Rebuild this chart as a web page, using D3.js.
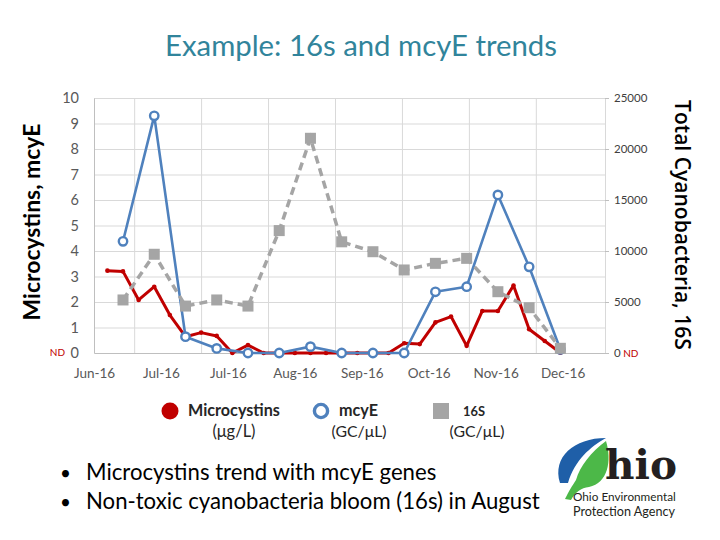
<!DOCTYPE html>
<html>
<head>
<meta charset="utf-8">
<script src="https://cdn.jsdelivr.net/npm/d3@7"></script>
<style>
  html, body { margin: 0; padding: 0; background: #fff; }
  svg { display: block; }
</style>
</head>
<body>
<script>
// ---------------- DATA ----------------
const titleText = "Example: 16s and mcyE trends";
const leftAxisTitle = "Microcystins, mcyE";
const rightAxisTitle = "Total Cyanobacteria, 16S";

// weekly microcystins samples (µg/L)
const microDates = ["2016-06-07","2016-06-14","2016-06-21","2016-06-28","2016-07-05","2016-07-12",
  "2016-07-19","2016-07-26","2016-08-02","2016-08-09","2016-08-16","2016-08-23","2016-08-30",
  "2016-09-06","2016-09-13","2016-09-20","2016-09-27","2016-10-04","2016-10-11","2016-10-18",
  "2016-10-25","2016-11-01","2016-11-08","2016-11-15","2016-11-22","2016-11-29","2016-12-06",
  "2016-12-13","2016-12-20","2016-12-27"];
const microcystins = [3.23, 3.2, 2.08, 2.6, 1.49, 0.64, 0.8, 0.67, 0, 0.31, 0, 0, 0, 0, 0, 0, 0, 0, 0,
  0.38, 0.35, 1.2, 1.43, 0.28, 1.65, 1.65, 2.65, 0.93, 0.47, 0.01];

// biweekly gene samples
const geneDates = ["2016-06-14","2016-06-28","2016-07-12","2016-07-26","2016-08-09","2016-08-23",
  "2016-09-06","2016-09-20","2016-10-04","2016-10-18","2016-11-01","2016-11-15","2016-11-29",
  "2016-12-13","2016-12-27"];
const mcyE = [4.38, 9.3, 0.64, 0.18, 0.0, 0.0, 0.25, 0.0, 0.0, 0.0, 2.4, 2.6, 6.2, 3.38, 0.14];
const s16 = [5200, 9680, 4600, 5200, 4600, 12000, 21050, 10900, 9930, 8140, 8790, 9280, 6010, 4440, 460];

// axis ticks
const xLabelDates = ["2016-06-01","2016-07-01","2016-07-31","2016-08-30","2016-09-29","2016-10-29","2016-11-28","2016-12-28"];
const xGridDates = ["2016-06-19","2016-07-19","2016-08-18","2016-09-17","2016-10-17","2016-11-16","2016-12-16"];
const xDomain = ["2016-06-01","2017-01-16"];
const leftTicks = [0,1,2,3,4,5,6,7,8,9,10];
const rightTicks = [0,5000,10000,15000,20000,25000];

const legendItems = [
  {name: "Microcystins", unit: "(μg/L)"},
  {name: "mcyE", unit: "(GC/μL)"},
  {name: "16S", unit: "(GC/μL)"}
];
const bullets = ["Microcystins trend with mcyE genes", "Non-toxic cyanobacteria bloom (16s) in August"];

// ---------------- DRAW ----------------
const W = 720, H = 540;
const RED = "#C00000", BLUE = "#4F81BD", GRAY = "#A5A5A5";
const parse = d3.utcParse("%Y-%m-%d");
const svg = d3.select("body").append("svg").attr("width", W).attr("height", H);
svg.append("rect").attr("width", W).attr("height", H).attr("fill", "#fff");

function fit(sel, w) {
  const l = sel.node().getComputedTextLength();
  const fs = parseFloat(sel.attr("font-size"));
  sel.attr("font-size", (fs * w / l).toFixed(2));
  return sel;
}

const plot = {left: 94, right: 605, top: 98, bottom: 353};
const x = d3.scaleUtc().domain(xDomain.map(parse)).range([plot.left, plot.right]);
const yL = d3.scaleLinear().domain([0, 10]).range([plot.bottom, plot.top]);
const yR = d3.scaleLinear().domain([0, 25000]).range([plot.bottom, plot.top]);

// title
fit(svg.append("text").attr("x", 361).attr("y", 56).attr("text-anchor", "middle")
  .attr("font-family", "Lato").attr("font-size", 28).attr("fill", "#31849B").text(titleText), 392);

// gridlines
const gH = svg.append("g").attr("transform", `translate(${plot.left},0)`)
  .call(d3.axisLeft(yL).tickValues(leftTicks.slice(1)).tickSize(-(plot.right - plot.left)).tickFormat(""));
gH.select(".domain").remove();
gH.selectAll("line").attr("stroke", "#D9D9D9").attr("stroke-width", 1);

const gV = svg.append("g").attr("transform", `translate(0,${plot.bottom})`)
  .call(d3.axisBottom(x).tickValues(xGridDates.map(parse)).tickSize(-(plot.bottom - plot.top)).tickFormat(""));
gV.select(".domain").remove();
gV.selectAll("line").attr("stroke", "#D9D9D9").attr("stroke-width", 1);

// left axis
const gL = svg.append("g").attr("transform", `translate(${plot.left},0)`)
  .call(d3.axisLeft(yL).tickValues(leftTicks).tickSize(0).tickPadding(15));
gL.select(".domain").attr("stroke", "#BFBFBF");
gL.selectAll("text").attr("font-family", "Lato").attr("font-size", 14.5).attr("fill", "#595959");
svg.append("text").attr("x", 65).attr("y", yL(0)).attr("dy", "0.32em").attr("text-anchor", "end")
  .attr("font-family", "Lato").attr("font-size", 10).attr("fill", RED).text("ND");

// right axis
const gR = svg.append("g").attr("transform", `translate(${plot.right},0)`)
  .call(d3.axisRight(yR).tickValues(rightTicks).tickSize(4).tickPadding(5).tickFormat(d3.format("d")));
gR.select(".domain").attr("stroke", "#D9D9D9");
gR.selectAll("line").attr("stroke", "#BFBFBF");
gR.selectAll("text").attr("font-family", "Lato").attr("font-size", 11.5).attr("fill", "#404040");
gR.selectAll(".tick").filter(d => d === 0).select("text")
  .append("tspan").attr("fill", RED).attr("font-size", 10).text(" ND");

// bottom axis
const gB = svg.append("g").attr("transform", `translate(0,${plot.bottom})`)
  .call(d3.axisBottom(x).tickValues(xLabelDates.map(parse)).tickSize(0).tickPadding(15)
    .tickFormat(d3.utcFormat("%b-%y")));
gB.select(".domain").attr("stroke", "#BFBFBF");
gB.selectAll("text").attr("font-family", "Lato").attr("font-size", 13.5).attr("fill", "#595959");

// axis titles
fit(svg.append("text").attr("transform", "translate(31,222) rotate(-90)").attr("text-anchor", "middle")
  .attr("dominant-baseline", "central").attr("font-family", "Lato").attr("font-weight", 700)
  .attr("font-size", 17).attr("fill", "#000").text(leftAxisTitle), 197);
fit(svg.append("text").attr("transform", "translate(683,225) rotate(90)").attr("text-anchor", "middle")
  .attr("dominant-baseline", "central").attr("font-family", "Open Sans").attr("font-weight", 600)
  .attr("font-size", 19).attr("fill", "#000").text(rightAxisTitle), 250);

// series
const microData = microDates.map((d, i) => ({date: parse(d), v: microcystins[i]}));
const mcyData = geneDates.map((d, i) => ({date: parse(d), v: mcyE[i]}));
const s16Data = geneDates.map((d, i) => ({date: parse(d), v: s16[i]}));

const lineL = d3.line().x(d => x(d.date)).y(d => yL(d.v));
const lineR = d3.line().x(d => x(d.date)).y(d => yR(d.v));

// microcystins
svg.append("path").datum(microData).attr("d", lineL).attr("fill", "none")
  .attr("stroke", RED).attr("stroke-width", 3).attr("stroke-linejoin", "round");
svg.append("g").selectAll("circle").data(microData).join("circle")
  .attr("cx", d => x(d.date)).attr("cy", d => yL(d.v)).attr("r", 2.3).attr("fill", RED);

// mcyE
svg.append("path").datum(mcyData).attr("d", lineL).attr("fill", "none")
  .attr("stroke", BLUE).attr("stroke-width", 2.6).attr("stroke-linejoin", "round");
svg.append("g").selectAll("circle").data(mcyData).join("circle")
  .attr("cx", d => x(d.date)).attr("cy", d => yL(d.v)).attr("r", 4.2)
  .attr("fill", "#fff").attr("stroke", BLUE).attr("stroke-width", 2.4);

// 16S (secondary axis)
svg.append("path").datum(s16Data).attr("d", lineR).attr("fill", "none")
  .attr("stroke", GRAY).attr("stroke-width", 3.5).attr("stroke-dasharray", "8,5");
svg.append("g").selectAll("rect").data(s16Data).join("rect")
  .attr("x", d => x(d.date) - 5.5).attr("y", d => yR(d.v) - 5.5).attr("width", 11).attr("height", 11)
  .attr("fill", GRAY);

// legend
const lg = svg.append("g").attr("font-family", "Lato").attr("fill", "#1a1a1a");
lg.append("circle").attr("cx", 170).attr("cy", 411).attr("r", 8.5).attr("fill", RED);
lg.append("circle").attr("cx", 321).attr("cy", 411).attr("r", 6.6).attr("fill", "#fff")
  .attr("stroke", BLUE).attr("stroke-width", 3.4);
lg.append("rect").attr("x", 433).attr("y", 403).attr("width", 16).attr("height", 16).attr("fill", GRAY);
const nameX = [188, 339, 463], nameW = [92, 39, 22];
const unitX = [234, 359, 477], unitW = [43, 55, 55];
legendItems.forEach((it, i) => {
  fit(lg.append("text").attr("x", nameX[i]).attr("y", 416).attr("font-size", 13).attr("font-weight", 700)
    .attr("fill", "#262626").text(it.name), nameW[i]);
  fit(lg.append("text").attr("x", unitX[i]).attr("y", 437).attr("text-anchor", "middle")
    .attr("font-size", 13).attr("fill", "#262626").text(it.unit), unitW[i]);
});

// bullets
const bg = svg.append("g").attr("font-family", "Lato").attr("fill", "#000");
const b2 = bg.append("text").attr("x", 86).attr("y", 509).attr("font-size", 20).text(bullets[1]);
fit(b2, 454);
const bfs = b2.attr("font-size");
bullets.forEach((b, i) => {
  bg.append("text").attr("x", 60).attr("y", 480 + i * 29).attr("font-size", bfs * 0.85).text("•");
  if (i === 0) bg.append("text").attr("x", 86).attr("y", 480).attr("font-size", bfs).text(b);
});

// Ohio EPA logo (decorative)
const logo = svg.append("g");
logo.append("path").attr("fill", "#1F5FA8")
  .attr("d", "M560,483 C552,457 574,438 606,438 C590,447 575,460 568,483 Z");
logo.append("path").attr("fill", "#4CB848")
  .attr("d", "M606,441 C612,461 608,483 589,487 C581,488 575,492 571,500 L565,499 C569,491 572,486 576,480 C580,466 591,452 606,441 Z");
fit(logo.append("text").attr("x", 605).attr("y", 479).attr("font-family", "DejaVu Serif")
  .attr("font-weight", 700).attr("font-size", 40).attr("fill", "#231F20").text("hio"), 72);
fit(logo.append("text").attr("x", 573).attr("y", 501).attr("font-family", "Lato")
  .attr("font-size", 10.5).attr("fill", "#231F20").text("Ohio Environmental"), 103);
fit(logo.append("text").attr("x", 573).attr("y", 516).attr("font-family", "Lato")
  .attr("font-size", 10.5).attr("fill", "#231F20").text("Protection Agency"), 102);
</script>
</body>
</html>
